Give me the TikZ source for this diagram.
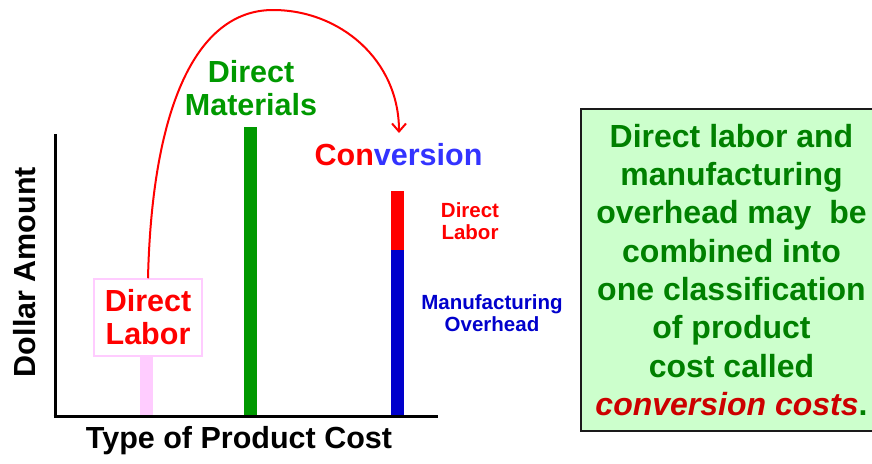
\documentclass[tikz,border=0pt]{standalone}
\usepackage{fontspec}
\setmainfont{Liberation Sans}
\usetikzlibrary{arrows.meta}
\definecolor{cred}{HTML}{FF0000}
\definecolor{cgreen}{HTML}{009900}
\definecolor{ctxtgreen}{HTML}{008000}
\definecolor{cblue}{HTML}{0000CC}
\definecolor{cconvblue}{HTML}{3333FF}
\definecolor{cpink}{HTML}{FFCCFF}
\definecolor{cdarkred}{HTML}{CC0000}
\definecolor{cboxfill}{HTML}{CCFFCC}
\definecolor{cborder}{HTML}{1A1A1A}
\tikzset{
  big/.style={font=\bfseries\fontsize{30.5}{33}\selectfont, align=center, inner sep=0pt},
  small/.style={font=\bfseries\fontsize{20.5}{22}\selectfont, align=center, inner sep=0pt},
  axisline/.style={line width=3pt, black},
  arrowc/.style={draw=cred, line width=2pt, -{Straight Barb[length=8pt,width=14pt,line width=2pt]}},
  notebox/.style={draw=cborder, line width=2.5pt, fill=cboxfill},
}
\begin{document}
\begin{tikzpicture}[x=1pt, y=-1pt]
\useasboundingbox (0,0) rectangle (872,463);
\clip (0,0) rectangle (872,463);
% axes
\coordinate (ytop) at (55,134);
\coordinate (origin) at (55,416);
\coordinate (xend) at (438,416);
\coordinate (ostart) at (53.5,416);
% bars
\fill[cpink] (140,356) rectangle (153,416);
\fill[cgreen] (244,127) rectangle (257,416);
\fill[cblue] (391,250) rectangle (404,417.5);
\fill[cred] (391,191) rectangle (404,250);
\draw[axisline] (ytop) -- (origin);
\draw[axisline] (ostart) -- (xend);
% labels
\node[big, rotate=90] (ylab) at (25,272) {Dollar Amount};
\node[big] (xlab) at (239,441) {Type of Product Cost};
\node[big, text=cgreen] (dm) at (251,88.5) {Direct\\Materials};
\node[big, draw=cpink, line width=1.5pt, fill=white, minimum width=108pt, minimum height=77pt] (dl) at (148,317.5) {\textcolor{cred}{Direct}\\\textcolor{cred}{Labor}};
\node[big] (conv) at (398.5,155) {\textcolor{cred}{Con}\textcolor{cconvblue}{version}};
\node[small, text=cred] (sdl) at (470,221) {Direct\\Labor};
\node[small, text=cblue] (moh) at (492,313) {Manufacturing\\Overhead};
\coordinate (arrowend) at (399,133);
\draw[arrowc] (dl.north) .. controls (152,110) and (195,10) .. (273,10) .. controls (340,10) and (399,60) .. (arrowend);
% text box
\draw[notebox] (581,109) rectangle (895,431);
\node[inner sep=0pt, align=center, text=ctxtgreen, font=\bfseries\fontsize{32}{38.3}\selectfont] (note) at (731.5,270) {Direct labor and\\manufacturing\\overhead may\ \ be\\combined into\\one classification\\of product\\cost called\\\textcolor{cdarkred}{\itshape conversion costs}.};
\end{tikzpicture}
\end{document}
